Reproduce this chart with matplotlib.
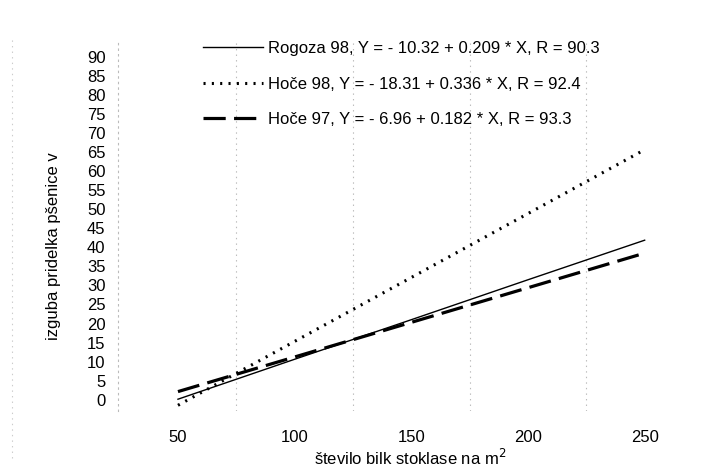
import matplotlib
matplotlib.use("Agg")
import matplotlib.pyplot as plt
from matplotlib.lines import Line2D

plt.rcParams['font.family'] = ['Liberation Sans', 'DejaVu Sans']
plt.rcParams['lines.scale_dashes'] = False

# values
stevilo_bilk = [50, 100, 150, 200, 250]
rogoza_98 = [0.1, 10.6, 21.0, 31.5, 41.9]
hoce_98 = [-1.5, 15.3, 32.1, 48.9, 65.7]
hoce_97 = [2.1, 11.2, 20.3, 29.4, 38.5]

labels = [
    "Rogoza 98, Y = - 10.32 + 0.209 * X, R = 90.3",
    "Hoče 98, Y = - 18.31 + 0.336 * X, R = 92.4",
    "Hoče 97, Y = - 6.96 + 0.182 * X, R = 93.3",
]
x_ticks = [50, 100, 150, 200, 250]
y_ticks = list(range(0, 95, 5))

fig = plt.figure(figsize=(7.15, 4.67), dpi=100)
ax = fig.add_axes([118 / 715, 1 - 411 / 467, (703 - 118) / 715, (411 - 42) / 467])

ax.plot(stevilo_bilk, rogoza_98, color="black", lw=1.0, label=labels[0])
ax.plot(stevilo_bilk, hoce_98, color="black", lw=2.2, dashes=(1.5, 4.5), label=labels[1])
ax.plot(stevilo_bilk, hoce_97, color="black", lw=2.3, dashes=(16, 6), label=labels[2])

ax.set_xlim(24.3, 275)
ax.set_ylim(-3, 94)
ax.set_xticks(x_ticks)
ax.set_yticks(y_ticks)
ax.tick_params(length=0, labelsize=12)
ax.tick_params(axis='x', pad=14)
ax.tick_params(axis='y', pad=9)

# faint dotted guide lines from the scan
for xv in [75, 125, 175, 225]:
    ax.axvline(xv, color="#bbbbbb", lw=0.8, ls=(0, (1, 3)), zorder=0)

for s in ["top", "right", "bottom"]:
    ax.spines[s].set_visible(False)
ax.spines["left"].set_color("#bbbbbb")
ax.spines["left"].set_linestyle((0, (1, 3)))
ax.spines["left"].set_linewidth(0.8)

ax.set_ylabel("izguba pridelka pšenice v", fontsize=12)
ax.yaxis.set_label_coords(-0.098, 0.447)
ax.set_xlabel("število bilk stoklase na m$^2$", fontsize=12)
ax.xaxis.set_label_coords(0.5, -0.10)

ax.legend(loc="upper left", bbox_to_anchor=(78 / 585, 1.02), frameon=False,
          fontsize=12, handlelength=3.6, handletextpad=0.3, labelspacing=1.22,
          borderaxespad=0.0)

fig.add_artist(Line2D([12 / 715, 12 / 715], [0.02, 0.92], color="#cccccc",
                      lw=0.8, ls=(0, (1, 3))))

fig.savefig("out.png", dpi=100)
